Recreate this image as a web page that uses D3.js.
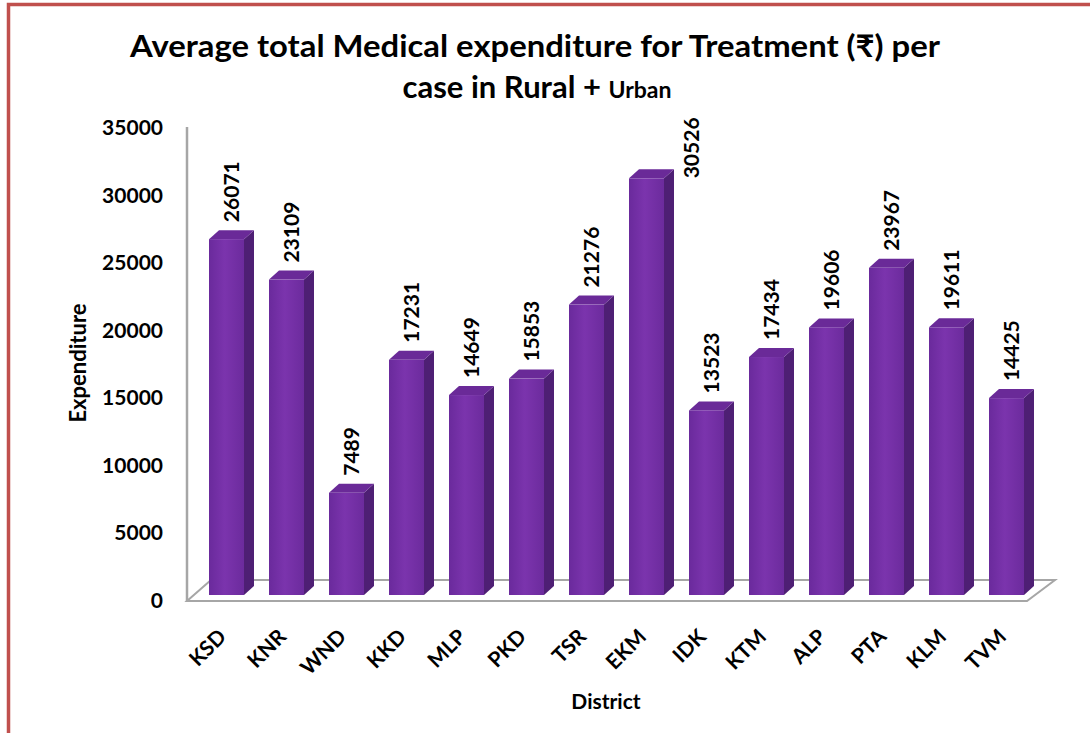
<!DOCTYPE html>
<html>
<head>
<meta charset="utf-8">
<script src="https://cdn.jsdelivr.net/npm/d3@7"></script>
<style>
  html, body { margin: 0; padding: 0; background: #fff; }
  svg { display: block; }
  text { font-family: Lato, "Open Sans", "Noto Sans", sans-serif; font-weight: bold; fill: #000; }
</style>
</head>
<body>
<svg id="chart" width="1090" height="733"></svg>
<script>
const districts = ["KSD","KNR","WND","KKD","MLP","PKD","TSR","EKM","IDK","KTM","ALP","PTA","KLM","TVM"];
const expenditure = [26071,23109,7489,17231,14649,15853,21276,30526,13523,17434,19606,23967,19611,14425];
const yTicks = [0,5000,10000,15000,20000,25000,30000,35000];
const titleLine1 = "Average total Medical expenditure for Treatment (₹) per";
const titleLine2a = "case in Rural + ";
const titleLine2b = "Urban";
const xTitle = "District";
const yTitle = "Expenditure";

const svg = d3.select("#chart");
const W = 1090, H = 733;

// frame
svg.append("rect").attr("x", 0).attr("y", 0).attr("width", W).attr("height", H).attr("fill", "#fff");
svg.append("rect").attr("x", 8.5).attr("y", 4.5).attr("width", 1300).attr("height", 900)
  .attr("fill", "none").attr("stroke", "#c0504d").attr("stroke-width", 3.5);

// scales
const x = d3.scaleBand().domain(districts).range([196.5, 1036.5])
  .paddingInner(25/60).paddingOuter(12.5/60);
const y = d3.scaleLinear().domain([0, 35000]).range([595, 595 - 35000*0.01365]);
const yAxisScale = d3.scaleLinear().domain([0, 35000]).range([600, 127]);
const dx = 10, dy = 9;
const bw = x.bandwidth();

// defs: gradient for front faces
const defs = svg.append("defs");
const g = defs.append("linearGradient").attr("id", "front").attr("x1", "0").attr("x2", "1").attr("y1", "0").attr("y2", "0");
g.append("stop").attr("offset", "0%").attr("stop-color", "#6a2a9c");
g.append("stop").attr("offset", "45%").attr("stop-color", "#7b34ad");
g.append("stop").attr("offset", "100%").attr("stop-color", "#6c2b9d");

// floor
const floorL = x.range()[0] - 9.5, floorR = x.range()[1] - 9.5;
svg.append("path")
  .attr("d", `M${floorL},601 L${floorR},601 L${floorR + 28},580 L${floorL + 24},580 Z`)
  .attr("fill", "#fff").attr("stroke", "#a6a6a6").attr("stroke-width", 2);
svg.append("line").attr("x1", floorL).attr("x2", floorL).attr("y1", 127).attr("y2", 601)
  .attr("stroke", "#a6a6a6").attr("stroke-width", 2.5);

// y axis ticks
const yAxis = d3.axisLeft(yAxisScale).tickValues(yTicks).tickSize(0).tickPadding(0).tickFormat(d3.format("d"));
const ya = svg.append("g").attr("transform", "translate(163,0)").call(yAxis);
ya.select(".domain").remove();
ya.selectAll("text").style("font-size", "21px").style("font-family", "Lato, sans-serif")
  .style("font-weight", "bold").attr("dy", "0.36em").attr("fill", "#000");

// bars
const bars = svg.append("g").selectAll("g").data(districts.map((d, i) => ({d, v: expenditure[i]}))).join("g");
bars.append("path") // side
  .attr("d", o => { const x0 = x(o.d) + bw, yt = y(o.v), yb = y(0);
    return `M${x0},${yt} L${x0+dx},${yt-dy} L${x0+dx},${yb-dy} L${x0},${yb} Z`; })
  .attr("fill", "#4e1f74");
bars.append("path") // top
  .attr("d", o => { const x0 = x(o.d), yt = y(o.v);
    return `M${x0},${yt} L${x0+dx},${yt-dy} L${x0+bw+dx},${yt-dy} L${x0+bw},${yt} Z`; })
  .attr("fill", "#6a2a98");
bars.append("rect") // front
  .attr("x", o => x(o.d)).attr("y", o => y(o.v)).attr("width", bw).attr("height", o => y(0) - y(o.v))
  .attr("fill", "url(#front)");

// value labels
const labelLen = 61, topLimit = 118;
bars.append("text")
  .text(o => o.v)
  .style("font-size", "21px")
  .attr("text-anchor", "start")
  .attr("transform", o => {
    let cx = x(o.d) + bw/2 + dx/2;
    let bottom = y(o.v) - dy - 8;
    if (bottom - labelLen < topLimit) { cx = x(o.d) + bw + dx + 17; bottom = y(o.v); }
    return `translate(${cx + 7.5},${bottom}) rotate(-90)`;
  });

// x labels
svg.append("g").selectAll("text").data(districts).join("text")
  .text(d => d)
  .style("font-size", "21px")
  .attr("text-anchor", "end")
  .attr("transform", d => `translate(${x(d) + bw/2 + 1},${638}) rotate(-45)`);

// axis titles
svg.append("text").text(xTitle).attr("x", 606).attr("y", 709).attr("text-anchor", "middle").style("font-size", "21px");
svg.append("text").text(yTitle).attr("text-anchor", "middle").style("font-size", "22px")
  .attr("transform", "translate(86,363) rotate(-90)");

// chart title
svg.append("text").text(titleLine1).attr("x", 535).attr("y", 57).attr("text-anchor", "middle")
  .style("font-size", "31px").attr("textLength", 810).attr("lengthAdjust", "spacingAndGlyphs");
const t2 = svg.append("text").attr("x", 537).attr("y", 98).attr("text-anchor", "middle");
t2.append("tspan").text(titleLine2a).style("font-size", "31px");
t2.append("tspan").text(titleLine2b).style("font-size", "23px");
</script>
</body>
</html>
